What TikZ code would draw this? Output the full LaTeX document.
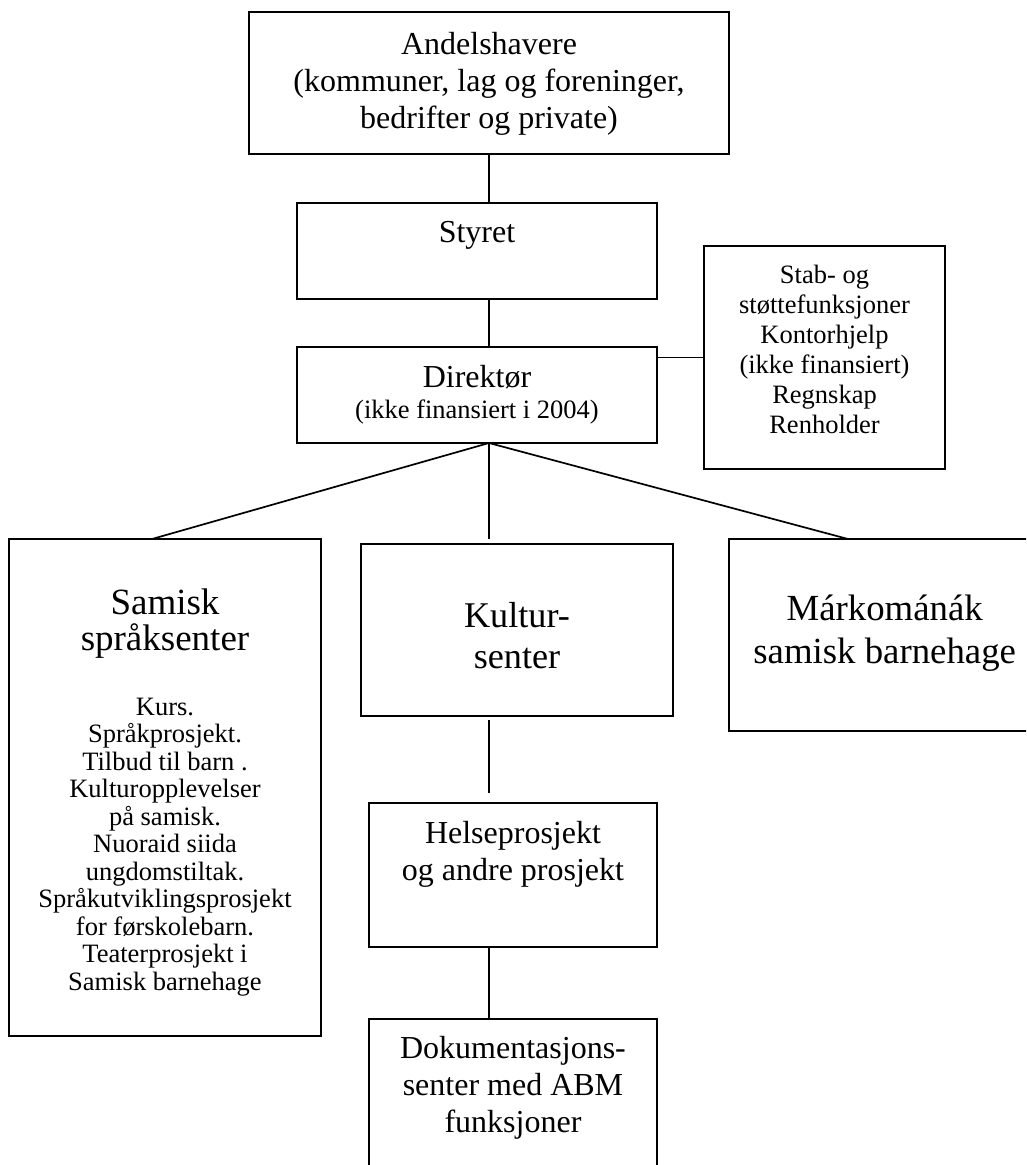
\documentclass[tikz,border=0pt]{standalone}
\usepackage{fontspec}
\setmainfont{Liberation Serif}
\usetikzlibrary{calc}
\begin{document}
\begin{tikzpicture}[x=1pt,y=-1pt]
\tikzset{
  box/.style={draw=black, line width=1.9pt, rectangle, inner sep=0pt, outer sep=0pt},
  txt/.style={anchor=north, align=center, inner sep=0pt, outer sep=0pt},
  link/.style={draw=black, line width=1.7pt},
}
\path[use as bounding box] (0,0) rectangle (1026,1165);
\clip (0,0) rectangle (1026,1165);
% boxes
\node[box, minimum width=480pt, minimum height=142pt] (andel) at (489,83) {};
\node[txt, font=\fontsize{32}{36.8}\selectfont] (andelT) at (489,32.6)
  {Andelshavere\\(kommuner, lag og foreninger,\\bedrifter og private)};
\node[box, minimum width=360pt, minimum height=96pt] (styret) at (477,251) {};
\node[txt, font=\fontsize{32}{36.8}\selectfont] (styretT) at (477,221.6) {Styret};
\node[box, minimum width=360pt, minimum height=96pt] (dir) at (477,395) {};
\node[txt, font=\fontsize{26.5}{30.7}\selectfont] (dirT) at (477,365.4)
  {{\fontsize{32}{36.8}\selectfont Direktør}\\(ikke finansiert i 2004)};
\node[box, minimum width=241pt, minimum height=223pt] (stab) at (824.5,357.5) {};
\node[txt, font=\fontsize{26.5}{29.9}\selectfont] (stabT) at (824.5,265.2)
  {Stab- og\\støttefunksjoner\\Kontorhjelp\\(ikke finansiert)\\Regnskap\\Renholder};
\node[box, minimum width=312pt, minimum height=497pt] (samisk) at (165,787.5) {};
\node[txt, font=\fontsize{26.5}{27.5}\selectfont] (samiskT) at (165,589)
  {{\fontsize{37}{36}\selectfont Samisk}\\[8.2pt]{\fontsize{37}{36}\selectfont språksenter}\\[37.5pt]Kurs.\\Språkprosjekt.\\Tilbud til barn .\\Kulturopplevelser\\på samisk.\\Nuoraid siida\\ungdomstiltak.\\Språkutviklingsprosjekt\\for førskolebarn.\\Teaterprosjekt i\\Samisk barnehage};
\node[box, minimum width=312pt, minimum height=172pt] (kultur) at (517,630) {};
\node[txt, font=\fontsize{36.2}{41.7}\selectfont] (kulturT) at (517,602.1) {Kultur-\\senter};
\node[box, minimum width=311pt, minimum height=192pt] (mark) at (884.5,635) {};
\node[txt, font=\fontsize{36.8}{43.3}\selectfont] (markT) at (884.7,594.7) {Márkománák\\samisk barnehage};
\node[box, minimum width=288pt, minimum height=144pt] (helse) at (513,875) {};
\node[txt, font=\fontsize{32}{37.3}\selectfont] (helseT) at (513,820.8) {Helseprosjekt\\og andre prosjekt};
\node[box, minimum width=288pt, minimum height=166pt] (dok) at (513,1102) {};
\node[txt, font=\fontsize{32}{36.7}\selectfont] (dokT) at (513,1036.4) {Dokumentasjons-\\senter med ABM\\funksjoner};
% connectors
\coordinate (hub) at (andel.south |- dir.south);
\draw[link] (andel.south) -- (andel.south |- styret.north);
\draw[link] (andel.south |- styret.south) -- (andel.south |- dir.north);
\draw[link] (stab.west -| dir.east) -- (stab.west);
\draw[link] (hub) -- ([xshift=143pt]samisk.north west);
\draw[link] (hub) -- ([yshift=5pt]kultur.north -| hub);
\draw[link] (hub) -- ([xshift=119pt]mark.north west);
\draw[link] ([yshift=-4pt]kultur.south -| hub) -- ([yshift=10pt]helse.north -| hub);
\draw[link] (helse.south -| hub) -- (dok.north -| hub);
\end{tikzpicture}
\end{document}
